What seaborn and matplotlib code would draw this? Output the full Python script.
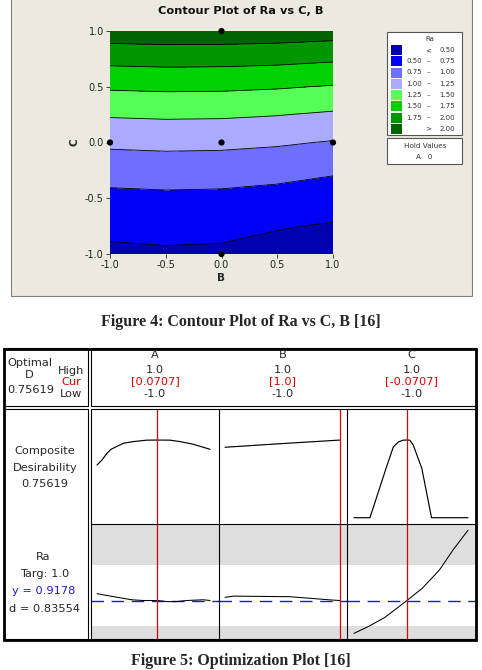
import matplotlib
matplotlib.use("Agg")
import matplotlib.pyplot as plt
import seaborn as sns
from matplotlib.patches import Rectangle

W, H = 482, 670

b_grid = [-1.0, -0.5, 0.0, 0.5, 1.0]
c_grid = [-1.0, -0.75, -0.5, -0.25, 0.0, 0.25, 0.5, 0.75, 1.0]
ra_grid = [  # rows follow c_grid, columns follow b_grid
    [0.455, 0.470, 0.461, 0.420, 0.379],
    [0.556, 0.570, 0.562, 0.515, 0.481],
    [0.688, 0.702, 0.695, 0.666, 0.616],
    [0.852, 0.866, 0.859, 0.831, 0.783],
    [1.047, 1.061, 1.055, 1.029, 0.984],
    [1.274, 1.288, 1.283, 1.259, 1.217],
    [1.532, 1.546, 1.542, 1.521, 1.484],
    [1.822, 1.836, 1.832, 1.816, 1.783],
    [2.143, 2.157, 2.155, 2.142, 2.115],
]
ra_levels = [0.0, 0.5, 0.75, 1.0, 1.25, 1.5, 1.75, 2.0, 3.0]
ra_colors = ["#0000b0", "#0000f5", "#6e6eff", "#aaaaff",
             "#55ff55", "#00d200", "#009600", "#006400"]
leg_lo = ["", "0.50", "0.75", "1.00", "1.25", "1.50", "1.75", ""]
leg_mid = ["<", "–", "–", "–", "–", "–", "–", ">"]
leg_hi = ["0.50", "0.75", "1.00", "1.25", "1.50", "1.75", "2.00", "2.00"]
design_b = [0, -1, 0, 1, 0]
design_c = [1, 0, 0, 0, -1]
ticks = [-1.0, -0.5, 0.0, 0.5, 1.0]

# ---- Figure 5: optimization plot
factors = ["A", "B", "C"]
f_high = ["1.0", "1.0", "1.0"]
f_low = ["-1.0", "-1.0", "-1.0"]
f_cur = [0.0707, 1.0, -0.0707]
f_cur_txt = ["[0.0707]", "[1.0]", "[-0.0707]"]
opt_d = 0.75619
ra_target, ra_lower, ra_upper = 1.0, 0.5, 1.5
ra_pred, ra_d = 0.9178, 0.83554

# composite desirability traces
comp_x = [
    [-1.0, -0.912, -0.823, -0.752, -0.534, -0.357, -0.121, 0.0707, 0.292, 0.469, 0.705, 1.0],
    [-1.0, -0.5, 0.0, 0.5, 1.0],
    [-1.0, -0.72, -0.43, -0.31, -0.22, -0.14, -0.0707, -0.02, 0.04, 0.19, 0.36, 1.0],
]
comp_d = [
    [0.513, 0.562, 0.627, 0.666, 0.725, 0.741, 0.755, 0.756, 0.755, 0.741, 0.715, 0.666],
    [0.686, 0.704, 0.722, 0.739, 0.756],
    [0.0, 0.0, 0.494, 0.689, 0.738, 0.755, 0.756, 0.755, 0.707, 0.48, 0.0, 0.0],
]
# Ra response traces
resp_x = [
    [-1.0, -0.7, -0.386, -0.18, 0.0707, 0.234, 0.41, 0.588, 0.88, 1.0],
    [-1.0, -0.85, 0.13, 0.48, 0.86, 1.0],
    [-1.0, -0.75, -0.46, -0.0707, 0.2, 0.5, 0.74, 1.0],
]
resp_y = [
    [1.03, 0.98, 0.93, 0.918, 0.9178, 0.90, 0.90, 0.918, 0.93, 0.918],
    [0.97, 0.99, 0.98, 0.954, 0.926, 0.9178],
    [0.38, 0.49, 0.64, 0.9178, 1.12, 1.42, 1.75, 2.07],
]

sns.set_style("white")
plt.rcParams["font.family"] = ["DejaVu Sans"]

fig = plt.figure(figsize=(W / 100, H / 100), dpi=100)
fig.patch.set_facecolor("white")


def px_axes(x0, y0, x1, y1, **kw):
    return fig.add_axes([x0 / W, 1 - y1 / H, (x1 - x0) / W, (y1 - y0) / H], **kw)


def px_layer(z):
    a = fig.add_axes([0, 0, 1, 1], zorder=z)
    a.set_xlim(0, W)
    a.set_ylim(H, 0)
    a.axis("off")
    a.patch.set_alpha(0)
    return a


bg = px_layer(-5)
bg.add_patch(Rectangle((11, -5), 461, 301, facecolor="#ece9e1",
                       edgecolor="#808080", lw=0.8))

# ---------------- contour plot ----------------
ax = px_axes(110, 31, 333, 254, zorder=1)
ax.contourf(b_grid, c_grid, ra_grid, levels=ra_levels, colors=ra_colors)
ax.contour(b_grid, c_grid, ra_grid, levels=ra_levels[1:-1], colors="black",
           linewidths=0.6)
sns.scatterplot(x=design_b, y=design_c, color="black", s=20, edgecolor="none",
                ax=ax, clip_on=False, zorder=5, legend=False)
ax.set_xlim(-1, 1)
ax.set_ylim(-1, 1)
ax.set_xticks(ticks)
ax.set_yticks(ticks)
ax.set_xticklabels([f"{t:.1f}" for t in ticks])
ax.set_yticklabels([f"{t:.1f}" for t in ticks])
ax.tick_params(direction="out", length=3, width=0.6, labelsize=7, pad=1.5,
               colors="#222222", left=True, bottom=True)
for s in ax.spines.values():
    s.set_visible(False)
ax.set_xlabel("B", fontsize=7.5, fontweight="bold")
ax.set_ylabel("C", fontsize=7.5, fontweight="bold")
ax.xaxis.set_label_coords(0.5, -(277.7 - 254) / 223)
ax.xaxis.label.set_va("center")
ax.yaxis.set_label_coords(-(110 - 75) / 223, 0.5)
ax.yaxis.label.set_va("center")

fg = px_layer(10)
fg.text(241, 11, "Contour Plot of Ra vs C, B", ha="center", va="center",
        fontsize=8.2, fontweight="bold", color="#111111")

# legend boxes
fg.add_patch(Rectangle((387, 32), 75, 103, facecolor="white", edgecolor="#555555", lw=0.8))
fg.text(430, 39, "Ra", ha="center", va="center", fontsize=5, color="#333333")
for i, col in enumerate(ra_colors):
    yc = 50 + i * 11.25
    fg.add_patch(Rectangle((391, yc - 5), 11, 10, facecolor=col, edgecolor="none"))
    fg.text(421.7, yc, leg_lo[i], ha="right", va="center", fontsize=5, color="#333333")
    fg.text(428.5, yc, leg_mid[i], ha="center", va="center", fontsize=5, color="#333333")
    fg.text(455, yc, leg_hi[i], ha="right", va="center", fontsize=5, color="#333333")
fg.add_patch(Rectangle((387, 138), 75, 26, facecolor="white", edgecolor="#555555", lw=0.8))
fg.text(425, 146, "Hold Values", ha="center", va="center", fontsize=5.2, color="#333333")
fg.text(424, 157, "A   0", ha="center", va="center", fontsize=5.2, color="#333333")

fg.text(241, 322, "Figure 4: Contour Plot of Ra vs C, B [16]", ha="center", va="center",
        family="Liberation Serif", fontweight="bold", fontsize=11.5)
fg.text(241, 661, "Figure 5: Optimization Plot [16]", ha="center", va="center",
        family="Liberation Serif", fontweight="bold", fontsize=11.5)

# ---------------- optimization plot ----------------
red = "#e00000"
blue = "#1c1cc8"
fs = 8.2
col_left = [91, 219, 347]
col_right = [219, 347, 476]
px_lo = [97, 225, 354]   # where -1 sits
px_hi = [210, 340, 468]  # where +1 sits

for i in range(3):
    scale = (px_hi[i] - px_lo[i]) / 2
    xlim = (-1 - (px_lo[i] - col_left[i]) / scale, 1 + (col_right[i] - px_hi[i]) / scale)

    # composite desirability row
    axd = px_axes(col_left[i], 409, col_right[i], 524, zorder=2)
    axd.axis("off")
    axd.set_xlim(*xlim)
    axd.set_ylim(-(524 - 517.7) / 102.7, (517.7 - 409) / 102.7)
    sns.lineplot(x=comp_x[i], y=comp_d[i], ax=axd, color="black", lw=0.85,
                 estimator=None, sort=False)
    axd.axvline(f_cur[i], color=red, lw=0.9)

    # Ra row
    axr = px_axes(col_left[i], 524, col_right[i], 639, zorder=2)
    axr.axis("off")
    axr.set_xlim(*xlim)
    ylo = ra_lower - (639 - 626) / 61
    yhi = ra_upper + (565 - 524) / 61
    axr.set_ylim(ylo, yhi)
    axr.axhspan(ylo, ra_lower, color="#dedede", lw=0)
    axr.axhspan(ra_upper, yhi, color="#dedede", lw=0)
    axr.axhline(ra_pred, color=blue, lw=1.0, ls=(0, (9, 5.5)))
    sns.lineplot(x=resp_x[i], y=resp_y[i], ax=axr, color="black", lw=0.75,
                 estimator=None, sort=False)
    axr.axvline(f_cur[i], color=red, lw=0.9)

    cx = (col_left[i] + col_right[i]) / 2
    fg.text(cx, 355, factors[i], ha="center", va="center", fontsize=fs)
    fg.text(cx, 370, f_high[i], ha="center", va="center", fontsize=fs)
    fg.text(cx, 381.5, f_cur_txt[i], ha="center", va="center", fontsize=fs, color=red)
    fg.text(cx, 394, f_low[i], ha="center", va="center", fontsize=fs)

# frame lines
lw1 = 0.8
for (x0, y0, x1, y1) in [(4, 348, 88, 406), (91, 348, 476, 406),
                         (4, 409, 88, 639), (91, 409, 476, 639)]:
    fg.add_patch(Rectangle((x0, y0), x1 - x0, y1 - y0, fill=False, edgecolor="black", lw=lw1))
fg.plot([91, 476], [524, 524], color="black", lw=lw1)
for xv in [219, 347]:
    fg.plot([xv, xv], [409, 639], color="black", lw=lw1)
fg.add_patch(Rectangle((4, 348.5), 472, 291, fill=False, edgecolor="black", lw=2.0))

# left labels
fg.text(30, 362.7, "Optimal", ha="center", va="center", fontsize=fs)
fg.text(29, 375, "D", ha="center", va="center", fontsize=fs)
fg.text(30.5, 390, f"{opt_d:.5f}", ha="center", va="center", fontsize=fs)
fg.text(71.5, 370.5, "High", ha="center", va="center", fontsize=fs)
fg.text(71.5, 382, "Cur", ha="center", va="center", fontsize=fs, color=red)
fg.text(71, 394, "Low", ha="center", va="center", fontsize=fs)

fg.text(45, 451, "Composite", ha="center", va="center", fontsize=fs)
fg.text(45, 467.7, "Desirability", ha="center", va="center", fontsize=fs)
fg.text(45, 484.3, f"{opt_d:.5f}", ha="center", va="center", fontsize=fs)

fg.text(43.5, 556.7, "Ra", ha="center", va="center", fontsize=fs)
fg.text(44.3, 574, f"Targ: {ra_target:.1f}", ha="center", va="center", fontsize=fs)
fg.text(44, 591, f"y = {ra_pred:.4f}", ha="center", va="center", fontsize=fs, color=blue)
fg.text(44.5, 608.7, f"d = {ra_d:.5f}", ha="center", va="center", fontsize=fs)

fig.savefig("out.png", dpi=100)
